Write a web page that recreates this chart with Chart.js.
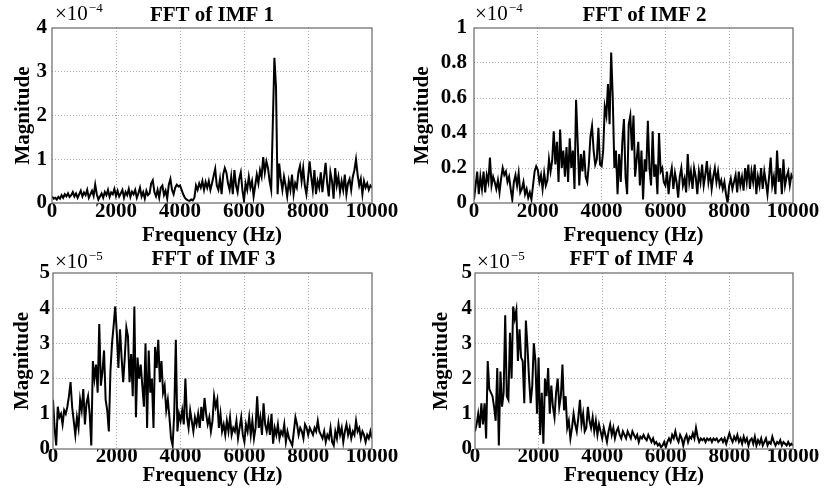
<!DOCTYPE html>
<html>
<head>
<meta charset="utf-8">
<script src="https://cdn.jsdelivr.net/npm/chart.js@4.4.0/dist/chart.umd.min.js"></script>
<style>
  html, body { margin: 0; padding: 0; background: #fff; }
  #wrap { position: relative; width: 825px; height: 493px; }
  .panel { position: absolute; }
</style>
</head>
<body>
<div id="wrap">
  <div class="panel" style="left:0;top:0;width:412px;height:248px"><canvas id="c1"></canvas></div>
  <div class="panel" style="left:412px;top:0;width:413px;height:248px"><canvas id="c2"></canvas></div>
  <div class="panel" style="left:0;top:248px;width:412px;height:245px"><canvas id="c3"></canvas></div>
  <div class="panel" style="left:412px;top:248px;width:413px;height:245px"><canvas id="c4"></canvas></div>
</div>
<script>
// frequency bins, 50 Hz apart
const freq = Array.from({length: 201}, (_, i) => i * 50);

// magnitudes (IMF1, IMF2 in units of 1e-4; IMF3, IMF4 in units of 1e-5)
const imf1 = [
  0.15,0.1,0.12,0.08,0.14,0.1,0.18,0.12,0.2,0.15,0.22,0.14,0.18,0.25,0.15,0.22,0.12,0.2,0.28,0.15,
  0.24,0.18,0.3,0.12,0.2,0.28,0.16,0.42,0.2,0.08,0.15,0.22,0.12,0.25,0.18,0.3,0.14,0.24,0.2,0.32,
  0.16,0.28,0.15,0.22,0.3,0.12,0.25,0.18,0.32,0.14,0.26,0.2,0.3,0.12,0.22,0.35,0.15,0.25,0.1,0.28,
  0.18,0.22,0.45,0.52,0.25,0.15,0.3,0.12,0.35,0.4,0.18,0.28,0.1,0.42,0.55,0.3,0.2,0.35,0.42,0.38,
  0.4,0.3,0.2,0.12,0.08,0.06,0.05,0.08,0.06,0.12,0.4,0.3,0.45,0.35,0.5,0.3,0.48,0.35,0.5,0.3,
  0.45,0.62,0.78,0.4,0.3,0.55,0.2,0.65,0.8,0.7,0.45,0.3,0.6,0.2,0.75,0.4,0.25,0.55,0.7,0.3,
  0.05,0.45,0.3,0.6,0.35,0.5,0.15,0.4,0.65,0.45,0.75,0.6,1.05,0.7,0.95,0.8,0.5,0.3,1.8,3.32,
  2.65,0.2,0.9,0.55,0.3,0.6,0.4,0.15,0.5,0.3,0.65,0.2,0.45,0.35,0.7,0.85,0.5,0.8,0.4,0.2,
  0.55,0.95,0.6,0.3,0.75,0.2,0.5,0.35,0.7,0.25,0.6,0.92,0.45,0.15,0.7,0.5,0.1,0.8,0.4,0.6,
  0.25,0.5,0.3,0.65,0.2,0.45,0.55,0.3,0.6,0.75,1.0,0.65,0.4,0.55,0.2,0.5,0.35,0.45,0.3,0.4,
  0.35
];
const imf2 = [
  0.02,0.1,0.18,0.05,0.15,0.08,0.18,0.06,0.16,0.12,0.26,0.1,0.15,0.12,0.08,0.13,0.06,0.14,0.2,0.16,
  0.18,0.12,0.15,0.08,0.02,0.12,0.16,0.1,0.17,0.06,0.08,0.12,0.05,0.08,0.03,0.06,0.02,0.1,0.18,0.21,
  0.19,0.12,0.16,0.08,0.17,0.1,0.13,0.25,0.18,0.24,0.41,0.22,0.35,0.12,0.42,0.2,0.3,0.15,0.32,0.12,
  0.37,0.2,0.3,0.08,0.59,0.35,0.1,0.28,0.18,0.3,0.15,0.12,0.22,0.38,0.44,0.3,0.22,0.25,0.43,0.22,
  0.21,0.3,0.55,0.5,0.68,0.45,0.86,0.6,0.2,0.3,0.05,0.28,0.12,0.35,0.48,0.15,0.05,0.45,0.5,0.3,
  0.5,0.15,0.25,0.35,0.1,0.3,0.02,0.25,0.18,0.47,0.2,0.1,0.41,0.15,0.22,0.05,0.4,0.18,0.2,0.12,
  0.1,0.18,0.05,0.15,0.2,0.08,0.17,0.12,0.03,0.15,0.2,0.1,0.14,0.06,0.28,0.12,0.18,0.08,0.2,0.15,
  0.05,0.18,0.12,0.22,0.1,0.16,0.24,0.12,0.18,0.08,0.15,0.2,0.12,0.18,0.1,0.13,0.08,0.12,0.05,0.0,
  0.1,0.14,0.08,0.12,0.16,0.06,0.18,0.1,0.15,0.07,0.2,0.12,0.22,0.08,0.18,0.12,0.22,0.05,0.15,0.1,
  0.2,0.08,0.18,0.12,0.05,0.15,0.26,0.1,0.15,0.05,0.3,0.12,0.2,0.05,0.25,0.1,0.15,0.18,0.1,0.16,
  0.14
];
const imf3 = [
  1.4,0.6,0.1,1.2,0.9,1.0,0.7,1.1,1.0,1.2,1.5,1.9,1.2,0.8,0.4,0.9,0.6,1.4,1.1,1.7,
  0.7,1.3,1.5,1.0,0.1,2.5,2.0,2.4,1.6,3.55,1.8,2.2,2.8,1.4,1.1,0.5,2.2,3.0,3.5,4.05,
  3.3,2.3,3.4,2.6,1.9,2.6,3.45,3.2,1.9,2.7,1.5,4.05,0.9,2.6,2.0,2.4,1.8,1.2,3.0,0.6,
  2.8,1.6,2.0,0.6,2.9,2.3,3.1,1.9,2.5,1.6,1.8,1.1,1.4,0.9,0.3,0.1,1.0,3.1,0.5,1.0,
  0.8,1.1,0.7,2.0,0.9,0.6,1.1,0.8,0.5,0.9,0.7,1.0,0.6,1.2,0.8,1.45,1.0,0.7,0.9,0.5,
  0.8,1.5,1.2,1.4,0.6,1.0,0.5,0.7,0.4,0.8,0.5,0.9,0.4,0.6,0.5,0.8,0.3,0.6,0.9,0.4,
  0.2,0.7,0.5,0.9,0.4,0.8,0.3,0.6,1.5,0.6,0.9,0.4,1.3,0.7,0.5,0.8,0.4,1.0,0.15,0.6,
  0.4,0.7,0.3,0.5,0.4,0.7,0.2,0.5,0.3,0.2,0.1,0.5,0.9,0.7,0.4,0.6,0.5,0.3,0.7,0.6,
  0.4,0.6,0.5,0.4,0.6,0.5,0.8,0.5,0.4,0.3,0.5,0.2,0.4,0.3,0.6,0.2,0.1,0.5,0.3,0.7,
  0.4,0.6,0.2,0.5,0.7,0.4,0.6,0.3,0.5,0.4,0.8,0.5,0.6,0.3,0.5,0.4,0.2,0.4,0.3,0.5,
  0.3
];
const imf4 = [
  0.5,0.7,1.0,0.6,1.3,0.7,1.3,0.3,2.5,1.7,1.6,1.5,1.2,0.8,2.3,0.1,2.2,1.2,1.6,3.8,
  1.5,1.4,3.3,2.0,4.05,3.7,3.95,2.5,3.4,2.6,2.5,1.3,3.65,2.9,2.0,1.3,1.8,3.0,2.5,1.0,
  2.6,0.4,1.6,0.15,2.0,1.5,2.3,1.0,1.8,1.2,0.9,1.6,2.0,1.2,1.5,2.4,1.1,1.5,0.6,0.8,
  0.3,0.6,1.0,0.7,0.5,0.9,1.4,0.7,1.0,0.5,0.6,1.2,0.8,0.6,0.9,0.5,0.8,0.4,0.7,0.5,
  0.3,0.6,0.4,0.2,0.5,0.7,0.4,0.6,0.3,0.5,0.6,0.4,0.3,0.5,0.4,0.3,0.5,0.4,0.3,0.5,
  0.4,0.3,0.4,0.2,0.35,0.3,0.4,0.3,0.25,0.4,0.3,0.2,0.3,0.15,0.2,0.1,0.15,0.05,0.1,0.2,
  0.05,0.2,0.3,0.2,0.4,0.3,0.5,0.3,0.2,0.4,0.3,0.1,0.3,0.4,0.2,0.35,0.3,0.45,0.3,0.6,
  0.35,0.2,0.3,0.25,0.3,0.2,0.3,0.25,0.3,0.2,0.3,0.25,0.3,0.2,0.25,0.3,0.2,0.3,0.15,0.3,
  0.45,0.3,0.2,0.35,0.25,0.4,0.2,0.3,0.15,0.35,0.2,0.3,0.1,0.25,0.3,0.15,0.35,0.1,0.25,0.15,
  0.3,0.1,0.2,0.3,0.1,0.2,0.15,0.35,0.2,0.1,0.2,0.15,0.25,0.1,0.2,0.15,0.1,0.2,0.1,0.15,
  0.1
];

const xTicks = [0, 2000, 4000, 6000, 8000, 10000];

const FONT = '"Liberation Serif", "Times New Roman", serif';

// frame, title and the x10^n multiplier
const panelText = {
  id: 'panelText',
  afterDraw(chart, args, o) {
    const {ctx, chartArea: a} = chart;
    ctx.save();
    ctx.strokeStyle = '#666';
    ctx.lineWidth = 1.2;
    ctx.strokeRect(a.left, a.top, a.right - a.left, a.bottom - a.top);
    ctx.fillStyle = '#000';
    ctx.font = 'bold 21px ' + FONT;
    ctx.textAlign = 'center';
    ctx.textBaseline = 'middle';
    ctx.fillText(o.title, (a.left + a.right) / 2 + o.titleShift, o.titleY);
    ctx.textAlign = 'left';
    ctx.textBaseline = 'alphabetic';
    ctx.font = '21px ' + FONT;
    ctx.fillText('×10', o.expX, o.expBase);
    const w = ctx.measureText('×10').width;
    ctx.font = '13px ' + FONT;
    ctx.fillText(o.exp, o.expX + w + 1, o.expBase - 8);
    ctx.restore();
  }
};

function makeChart(id, values, p) {
  const pts = freq.map((f, i) => ({x: f, y: values[i]}));
  const edgeX = c => (c.tick.value === 0 || c.tick.value === 10000) ? 'rgba(0,0,0,0)' : '#a8a8a8';
  const edgeY = c => (c.tick.value === 0 || c.tick.value === p.yMax) ? 'rgba(0,0,0,0)' : '#a8a8a8';
  return new Chart(document.getElementById(id), {
    type: 'line',
    data: {
      datasets: [{
        data: pts,
        borderColor: '#000',
        borderWidth: 2,
        pointRadius: 0,
        tension: 0,
        fill: false
      }]
    },
    options: {
      responsive: true,
      maintainAspectRatio: false,
      animation: false,
      events: [],
      layout: { padding: { top: p.padTop, right: p.padRight, left: 0, bottom: 0 } },
      plugins: {
        legend: { display: false },
        tooltip: { enabled: false },
        panelText: {
          title: p.title, titleShift: p.titleShift, titleY: p.titleY,
          exp: p.exp, expX: p.expX, expBase: p.expBase
        }
      },
      scales: {
        x: {
          type: 'linear',
          min: 0,
          max: 10000,
          afterBuildTicks: s => { s.ticks = xTicks.map(v => ({value: v})); },
          afterFit: s => { s.height = p.xH; },
          grid: { color: edgeX, drawTicks: false, lineWidth: 1 },
          border: { display: false, dash: [1, 2] },
          ticks: {
            autoSkip: false, maxRotation: 0, padding: p.xTickPad, color: '#000',
            font: { family: FONT, size: 21, weight: 'bold', lineHeight: 1 },
            callback: v => String(v)
          },
          title: {
            display: true, text: 'Frequency (Hz)', color: '#000',
            font: { family: FONT, size: 21, weight: 'bold', lineHeight: 1 },
            padding: { top: 0, bottom: p.xTitlePad }
          }
        },
        y: {
          min: 0,
          max: p.yMax,
          afterBuildTicks: s => { s.ticks = p.yTicks.map(v => ({value: v})); },
          afterFit: s => { s.width = p.yW; },
          grid: { color: edgeY, drawTicks: false, lineWidth: 1 },
          border: { display: false, dash: [1, 2] },
          ticks: {
            autoSkip: false, padding: p.yTickPad, color: '#000',
            font: { family: FONT, size: 21, weight: 'bold', lineHeight: 1 },
            callback: v => String(v)
          },
          title: {
            display: true, text: 'Magnitude', color: '#000',
            font: { family: FONT, size: 21, weight: 'bold', lineHeight: 1 },
            padding: { top: p.yTitlePad, bottom: 0 }
          }
        }
      }
    },
    plugins: [panelText]
  });
}

makeChart('c1', imf1, {
  title: 'FFT of IMF 1', titleShift: 0, titleY: 15.5, exp: '−4', expX: 55, expBase: 20,
  yMax: 4, yTicks: [0, 1, 2, 3, 4], yW: 52, xH: 45, padTop: 28, padRight: 40,
  yTickPad: 5, yTitlePad: 13, xTickPad: -2, xTitlePad: 2
});
makeChart('c2', imf2, {
  title: 'FFT of IMF 2', titleShift: 11, titleY: 15.5, exp: '−4', expX: 63, expBase: 20,
  yMax: 1, yTicks: [0, 0.2, 0.4, 0.6, 0.8, 1], yW: 62, xH: 45, padTop: 28, padRight: 32,
  yTickPad: 7, yTitlePad: 0, xTickPad: -2, xTitlePad: 2
});
makeChart('c3', imf3, {
  title: 'FFT of IMF 3', titleShift: 1, titleY: 12, exp: '−5', expX: 55, expBase: 20,
  yMax: 5, yTicks: [0, 1, 2, 3, 4, 5], yW: 53, xH: 44, padTop: 25, padRight: 40,
  yTickPad: 3, yTitlePad: 12, xTickPad: -3, xTitlePad: 7
});
makeChart('c4', imf4, {
  title: 'FFT of IMF 4', titleShift: -2.5, titleY: 12, exp: '−5', expX: 65, expBase: 20,
  yMax: 5, yTicks: [0, 1, 2, 3, 4, 5], yW: 63, xH: 44, padTop: 25, padRight: 32,
  yTickPad: 3, yTitlePad: 19, xTickPad: -3, xTitlePad: 7
});
</script>
</body>
</html>
